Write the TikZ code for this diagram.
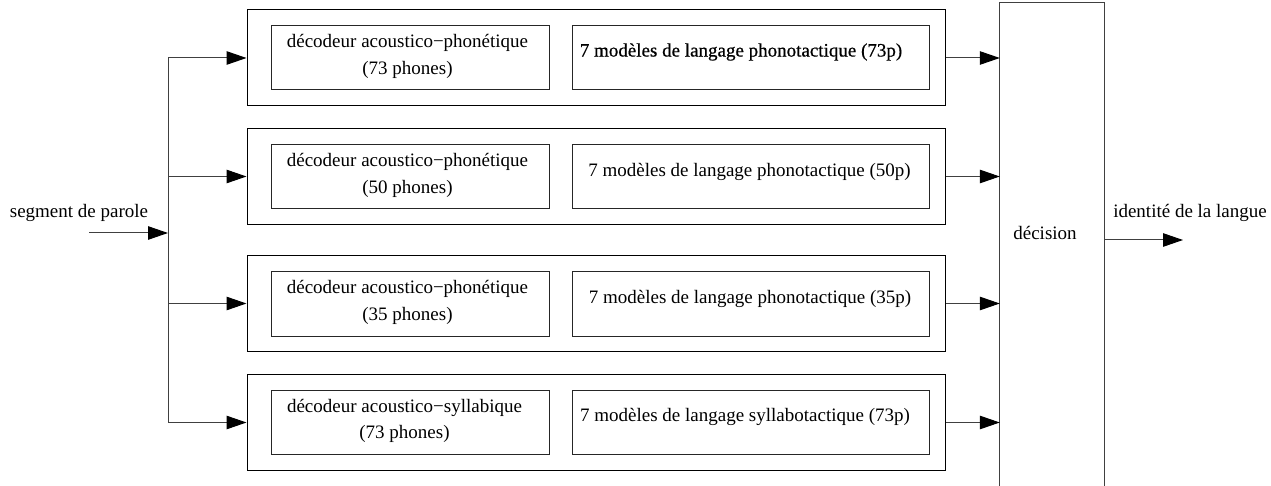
\documentclass[tikz,border=0pt]{standalone}
\usepackage{fontspec}
\setmainfont{Liberation Serif}
\newfontfamily\boldishfont[FakeBold=0.6]{Liberation Serif}
\usetikzlibrary{arrows.meta}
\begin{document}
\begin{tikzpicture}[x=1pt,y=-1pt,
  font=\fontsize{19}{26.7}\selectfont,
  outerbox/.style={draw=black,line width=1pt,minimum width=698pt,minimum height=96pt,inner sep=0pt},
  leftbox/.style={draw=black!85,line width=1pt,minimum width=278pt,minimum height=64pt,inner sep=0pt,align=center},
  rightbox/.style={draw=black!85,line width=1pt,minimum width=357pt,minimum height=64pt,inner sep=0pt},
  txt/.style={inner sep=0pt},
  conn/.style={draw=black!75,line width=1pt},
  arr/.style={conn,-{Triangle[length=20pt,width=13.5pt,color=black]}}
]
\useasboundingbox (0,0) rectangle (1271,486);

% outer boxes
\node[outerbox] (o1) at (596,58) {};
\node[outerbox] (o2) at (596,176.5) {};
\node[outerbox] (o3) at (596,303.5) {};
\node[outerbox] (o4) at (596,422.5) {};

% inner left boxes
\node[leftbox] (l1) at (410,58) {};
\node[leftbox] (l2) at (410,177) {};
\node[leftbox] (l3) at (410,304) {};
\node[leftbox] (l4) at (410,422.5) {};
\node[txt,align=center] (lt1) at (407.5,56.5) {décodeur acoustico−phonétique\\(73 phones)};
\node[txt,align=center] (lt2) at (407.5,175.5) {décodeur acoustico−phonétique\\(50 phones)};
\node[txt,align=center] (lt3) at (407.5,302.5) {décodeur acoustico−phonétique\\(35 phones)};
\node[txt,align=center] (lt4) at (404.5,421) {décodeur acoustico−syllabique\\(73 phones)};

% inner right boxes
\node[rightbox] (r1) at (750.5,58) {};
\node[rightbox] (r2) at (750.5,177) {};
\node[rightbox] (r3) at (750.5,304) {};
\node[rightbox] (r4) at (750.5,422.5) {};
\node[txt] (rt1) at (741,52) {\boldishfont 7 modèles de langage phonotactique (73p)};
\node[txt] (rt2) at (749.5,172) {7 modèles de langage phonotactique (50p)};
\node[txt] (rt3) at (750,299) {7 modèles de langage phonotactique (35p)};
\node[txt] (rt4) at (745,417) {7 modèles de langage syllabotactique (73p)};

% decision box (open at the bottom edge)
\node[minimum width=104pt,minimum height=484pt,inner sep=0pt] (dec) at (1052,244.5) {};
\draw[conn] (dec.south west) -- (dec.north west) -- (dec.north east) -- (dec.south east);
\node[txt] (dect) at (1045,233) {décision};

% input
\node[txt] (inlab) at (79,213) {segment de parole};
\coordinate (in) at (89,233);
\coordinate (br) at (168,233);
\coordinate (vtop) at (168,58);
\coordinate (vbot) at (168,422.5);
\draw[arr] (in) -- (br);
\draw[conn] (vtop) -- (vbot);
\draw[arr] (vtop) -- (o1.west);
\draw[arr] (vtop |- o2.west) -- (o2.west);
\draw[arr] (vtop |- o3.west) -- (o3.west);
\draw[arr] (vbot) -- (o4.west);

% to decision
\draw[arr] (o1.east) -- (o1.east -| dec.west);
\draw[arr] (o2.east) -- (o2.east -| dec.west);
\draw[arr] (o3.east) -- (o3.east -| dec.west);
\draw[arr] (o4.east) -- (o4.east -| dec.west);

% output
\coordinate (out) at (1183,240);
\draw[arr] (dec.east |- out) -- (out);
\node[txt] (outlab) at (1190,213) {identité de la langue};
\end{tikzpicture}
\end{document}
